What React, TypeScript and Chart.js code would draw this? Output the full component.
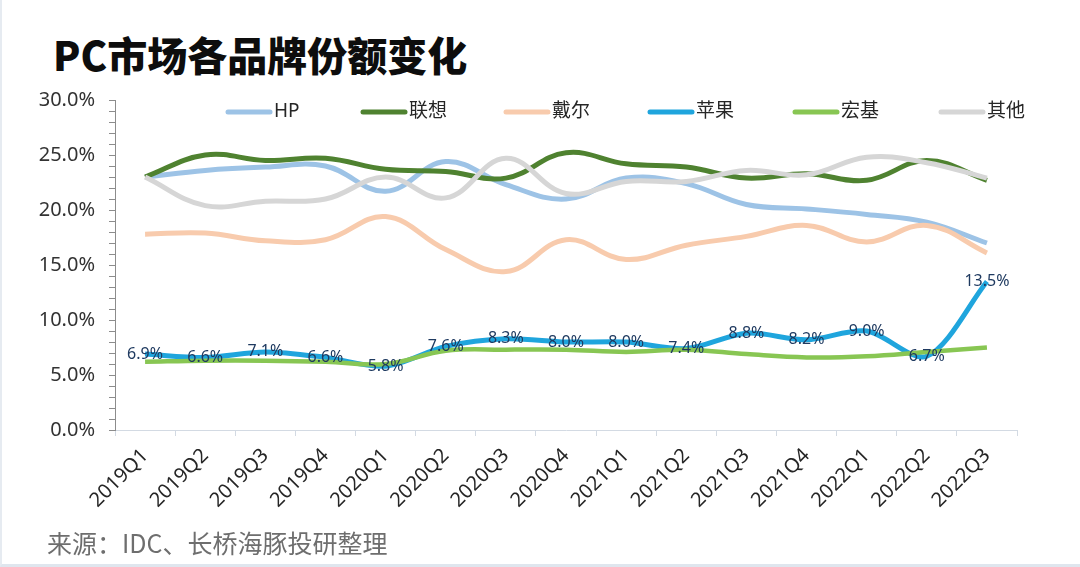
import React, { useEffect, useRef } from "react";
import { Chart, registerables } from "chart.js";

Chart.register(...registerables);

const categories = [
  "2019Q1", "2019Q2", "2019Q3", "2019Q4",
  "2020Q1", "2020Q2", "2020Q3", "2020Q4",
  "2021Q1", "2021Q2", "2021Q3", "2021Q4",
  "2022Q1", "2022Q2", "2022Q3",
];
const seriesNames = ["HP", "联想", "戴尔", "苹果", "宏基", "其他"];
const hp = [23.0, 23.6, 23.9, 24.0, 21.7, 24.4, 22.3, 21.0, 22.9, 22.4, 20.5, 20.1, 19.6, 18.9, 17.0];
const lenovo = [23.0, 25.0, 24.5, 24.7, 23.7, 23.5, 22.9, 25.2, 24.2, 23.9, 22.9, 23.3, 22.7, 24.5, 22.7];
const dell = [17.8, 17.9, 17.2, 17.3, 19.4, 16.4, 14.4, 17.3, 15.5, 16.8, 17.6, 18.6, 17.1, 18.6, 16.1];
const apple = [6.9, 6.6, 7.1, 6.6, 5.8, 7.6, 8.3, 8.0, 8.0, 7.4, 8.8, 8.2, 9.0, 6.7, 13.5];
const acer = [6.2, 6.3, 6.3, 6.2, 6.0, 7.2, 7.3, 7.3, 7.1, 7.3, 6.9, 6.6, 6.7, 7.1, 7.5];
const others = [23.0, 20.4, 20.8, 21.0, 23.0, 21.1, 24.7, 21.5, 22.6, 22.6, 23.6, 23.2, 24.8, 24.3, 22.9];
const yMin = 0;
const yMax = 30;

const colors = ["#9dc3e6", "#4f8230", "#f8cbad", "#1fa5dd", "#88c653", "#d6d6d6"];
const FONT = '"Noto Sans", "Noto Sans CJK SC", sans-serif';
const legendX = [224, 359, 502, 646, 791, 937];

const legendPlugin = {
  id: "customLegend",
  afterDraw(chart: any) {
    const ctx = chart.ctx;
    ctx.save();
    const y = 112;
    chart.data.datasets.forEach((ds: any, i: number) => {
      const sx = legendX[i];
      ctx.strokeStyle = ds.borderColor;
      ctx.lineWidth = 5;
      ctx.lineCap = "round";
      ctx.beginPath();
      ctx.moveTo(sx + 2, y);
      ctx.lineTo(sx + 44, y);
      ctx.stroke();
      ctx.fillStyle = "#262626";
      ctx.font = `19px ${FONT}`;
      ctx.textAlign = "left";
      ctx.textBaseline = "middle";
      ctx.fillText(ds.label, sx + 48, y);
    });
    ctx.restore();
  },
};

const labelPlugin = {
  id: "appleLabels",
  afterDatasetsDraw(chart: any) {
    const ctx = chart.ctx;
    const idx = 3;
    const meta = chart.getDatasetMeta(idx);
    const data = chart.data.datasets[idx].data as number[];
    ctx.save();
    ctx.fillStyle = "#1f3a60";
    ctx.font = `16px ${FONT}`;
    ctx.textAlign = "center";
    ctx.textBaseline = "middle";
    meta.data.forEach((pt: any, i: number) => {
      ctx.fillText(data[i].toFixed(1) + "%", pt.x, pt.y);
    });
    ctx.restore();
  },
};

export default function App() {
  const ref = useRef<HTMLCanvasElement | null>(null);

  useEffect(() => {
    document.body.style.margin = "0";
    if (!ref.current) return;
    const values = [hp, lenovo, dell, apple, acer, others];
    const chart = new Chart(ref.current, {
      type: "line",
      data: {
        labels: categories,
        datasets: values.map((v, i) => ({
          label: seriesNames[i],
          data: v,
          borderColor: colors[i],
          backgroundColor: colors[i],
          borderWidth: i === 4 ? 4.5 : 5,
          pointRadius: 0,
          tension: i === 3 ? 0.3 : 0.4,
          fill: false,
          order: 6 - i,
        })),
      },
      options: {
        animation: false,
        responsive: false,
        maintainAspectRatio: false,
        layout: { padding: { left: 8, right: 65, top: 100, bottom: 0 } },
        plugins: {
          legend: { display: false },
          tooltip: { enabled: false },
          title: { display: false },
        },
        scales: {
          x: {
            offset: true,
            grid: {
              offset: true,
              drawOnChartArea: false,
              drawTicks: true,
              tickLength: 6,
              color: "#d3dae3",
            },
            border: { color: "#d3dae3", width: 1 },
            ticks: {
              autoSkip: false,
              maxRotation: 45,
              minRotation: 45,
              padding: 8,
              color: "#262626",
              font: { family: FONT, size: 20 },
            },
            afterFit: (scale: any) => {
              scale.height = 137;
            },
          },
          y: {
            min: yMin,
            max: yMax,
            grid: {
              drawOnChartArea: false,
              drawTicks: true,
              tickLength: 6,
              color: "#8c8c8c",
            },
            border: { color: "#8c8c8c", width: 1 },
            ticks: {
              stepSize: 1,
              autoSkip: false,
              padding: 14,
              color: "#333333",
              font: { family: FONT, size: 20 },
              callback: (v: any) => (Number(v) % 5 === 0 ? Number(v).toFixed(1) + "%" : ""),
            },
            afterFit: (scale: any) => {
              scale.width = 105;
            },
          },
        },
      },
      plugins: [labelPlugin, legendPlugin],
    });
    return () => chart.destroy();
  }, []);

  return (
    <div
      style={{
        position: "relative",
        width: 1080,
        height: 567,
        background: "#ffffff",
        overflow: "hidden",
        boxSizing: "border-box",
        borderBottom: "3px solid #dfe6ee",
        borderLeft: "2px solid #e6ebf1",
      }}
    >
      <div
        style={{
          position: "absolute",
          left: 51,
          top: 28,
          fontFamily: '"Noto Sans CJK SC", sans-serif',
          fontWeight: 900,
          fontSize: 40,
          lineHeight: "52px",
          color: "#0d0d0d",
          whiteSpace: "nowrap",
        }}
      >
        PC市场各品牌份额变化
      </div>
      <canvas
        ref={ref}
        width={1080}
        height={567}
        style={{ position: "absolute", left: 0, top: 0, width: 1080, height: 567 }}
      />
      <div
        style={{
          position: "absolute",
          left: 45,
          top: 526,
          fontFamily: '"Noto Sans CJK SC", sans-serif',
          fontSize: 25,
          lineHeight: "32px",
          color: "#6e6e6e",
          whiteSpace: "nowrap",
        }}
      >
        来源：IDC、长桥海豚投研整理
      </div>
    </div>
  );
}
